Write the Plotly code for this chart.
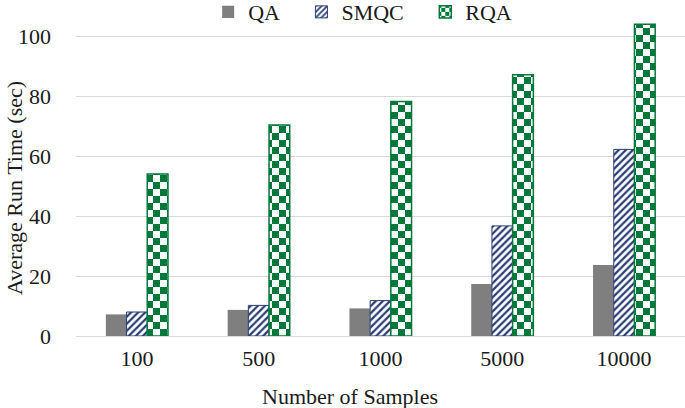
import plotly.graph_objects as go

samples = ["100", "500", "1000", "5000", "10000"]
qa = [7.2, 8.7, 9.2, 17.3, 23.7]
smqc = [8.0, 10.2, 11.8, 36.7, 62.2]
rqa = [54.0, 70.3, 78.2, 87.1, 103.9]
names = ["QA", "SMQC", "RQA"]

FONT = "Liberation Serif"
FS = 22
TXT = "#1a1a1a"
GRAY = "#7F7F7F"
NAVY = "#2B3E73"
GREEN = "#00783A"
PAD = "\u00a0\u00a0\u00a0"

fig = go.Figure()
fig.add_trace(go.Bar(name=names[0] + PAD, x=samples, y=qa,
                     marker=dict(color=GRAY, line=dict(width=0))))
fig.add_trace(go.Bar(name=names[1] + PAD, x=samples, y=smqc,
                     marker=dict(color="white", line=dict(color=NAVY, width=1),
                                 pattern=dict(shape="/", fgcolor=NAVY, bgcolor="white",
                                              size=5, solidity=0.45, fillmode="replace"))))
fig.add_trace(go.Bar(name=names[2], x=samples, y=rqa,
                     marker=dict(color="white", line=dict(color=GREEN, width=1.5),
                                 pattern=dict(shape="+", fgcolor=GREEN, bgcolor="white",
                                              size=14, solidity=0.5, fillmode="replace"))))

fig.update_layout(
    width=685, height=408,
    margin=dict(l=76, r=0, t=21, b=72, autoexpand=False),
    paper_bgcolor="white", plot_bgcolor="white",
    font=dict(family=FONT, size=FS, color=TXT),
    barmode="group", bargap=0.49, bargroupgap=0,
    showlegend=True,
    legend=dict(orientation="h", x=0.217, xanchor="left", y=1.095, yanchor="top",
                font=dict(family=FONT, size=FS, color=TXT),
                bgcolor="rgba(0,0,0,0)"),
    xaxis=dict(type="category", range=[-0.5, 4.5], showgrid=False, showline=True,
               linecolor="#D9D9D9", linewidth=1, ticks="", ticklabelstandoff=3,
               tickfont=dict(family=FONT, size=FS, color=TXT)),
    yaxis=dict(range=[0, 105], tickvals=[0, 20, 40, 60, 80, 100], showgrid=True,
               gridcolor="#D9D9D9", gridwidth=1, zeroline=False, showline=False,
               ticks="", ticklabelstandoff=24,
               tickfont=dict(family=FONT, size=FS, color=TXT)),
    annotations=[
        dict(text="Number of Samples", xref="paper", yref="paper",
             x=(350 - 76) / 609, y=-(396 - 336) / 315, xanchor="center", yanchor="middle",
             showarrow=False, font=dict(family=FONT, size=FS, color=TXT)),
        dict(text="Average Run Time (sec)", xref="paper", yref="paper",
             x=-(76 - 14) / 609, y=(336 - 188) / 315, xanchor="center", yanchor="middle",
             textangle=-90, showarrow=False, font=dict(family=FONT, size=FS, color=TXT)),
    ],
)

post = """
document.documentElement.style.margin = '0';
document.documentElement.style.padding = '0';
document.body.style.margin = '0';
document.body.style.padding = '0';
var gd = document.getElementById('{plot_id}');
function fixChecker(){
  var pats = document.querySelectorAll('pattern');
  pats.forEach(function(p){
    var path = p.querySelector('path');
    if(!path) return;
    var st = ((path.getAttribute('style')||'') + (path.getAttribute('fill')||'') + (path.getAttribute('stroke')||'')).replace(/\\s/g,'').toLowerCase();
    if(st.indexOf('0,120,58')<0 && st.indexOf('00783a')<0) return;
    var w = parseFloat(p.getAttribute('width'));
    var h = w/2;
    path.setAttribute('d', 'M0,0H'+h+'V'+h+'H0Z M'+h+','+h+'H'+w+'V'+w+'H'+h+'Z');
    path.setAttribute('style', 'fill:rgb(0,120,58);fill-opacity:1;stroke:none;');
  });
}
fixChecker();
if(gd && gd.on){ gd.on('plotly_afterplot', fixChecker); }
"""

fig.write_html("out.html", post_script=post, config={"displayModeBar": False})
